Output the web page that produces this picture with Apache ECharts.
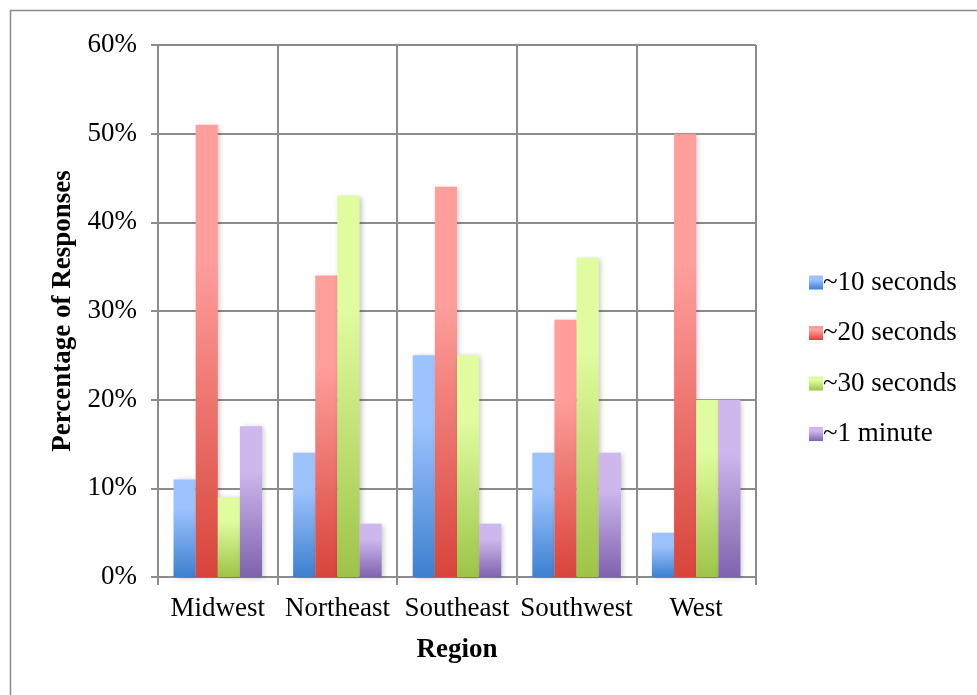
<!DOCTYPE html>
<html>
<head>
<meta charset="utf-8">
<script src="https://cdn.jsdelivr.net/npm/echarts@6/dist/echarts.min.js"></script>
<style>
  html, body { margin: 0; padding: 0; background: #fff; }
  #chart { width: 977px; height: 695px; }
</style>
</head>
<body>
<div id="chart"></div>
<script>
// Regions and response-time shares (percent)
const regions = ['Midwest', 'Northeast', 'Southeast', 'Southwest', 'West'];
const seriesNames = ['~10 seconds', '~20 seconds', '~30 seconds', '~1 minute'];
const tenSeconds = [11, 14, 25, 14, 5];
const twentySeconds = [51, 34, 44, 29, 50];
const thirtySeconds = [9, 43, 25, 36, 20];
const oneMinute = [17, 6, 6, 14, 20];
const yTicks = [0, 10, 20, 30, 40, 50, 60];

const values = [tenSeconds, twentySeconds, thirtySeconds, oneMinute];
// light top / dark bottom for each series
const palette = [
  ['#9dc3ff', '#3c80cf'],
  ['#ff9e9b', '#d8443a'],
  ['#e0fc9e', '#9dc447'],
  ['#cdb7ed', '#7f62ad']
];

function grad(c) {
  return new echarts.graphic.LinearGradient(0, 0, 0, 1, [
    { offset: 0, color: c[0] },
    { offset: 0.3, color: c[0] },
    { offset: 1, color: c[1] }
  ]);
}

const serif = '"Liberation Serif", "DejaVu Serif", serif';
const fs = 27;
const chart = echarts.init(document.getElementById('chart'));

chart.setOption({
  animation: false,
  backgroundColor: '#fff',
  graphic: [{
    type: 'rect',
    shape: { x: 10.5, y: 10.5, width: 1000, height: 700 },
    style: { fill: 'none', stroke: '#8c8c8c', lineWidth: 1.5 },
    silent: true
  }],
  legend: {
    orient: 'vertical',
    left: 804,
    top: 264,
    itemWidth: 14,
    itemHeight: 14,
    itemGap: 23.5,
    icon: 'rect',
    textStyle: { fontFamily: serif, fontSize: fs, color: '#000', padding: [0, 0, 0, -5] },
    data: seriesNames
  },
  grid: { left: 158, right: 221, top: 45, bottom: 118, containLabel: false },
  xAxis: {
    type: 'category',
    data: regions,
    name: 'Region',
    nameLocation: 'middle',
    nameGap: 60,
    nameTextStyle: { fontFamily: serif, fontSize: fs, fontWeight: 'bold', color: '#000' },
    axisLine: { lineStyle: { color: '#8c8c8c', width: 2 } },
    axisTick: { show: true, interval: 0, length: 8, alignWithLabel: false, lineStyle: { color: '#8c8c8c', width: 2 } },
    splitLine: { show: true, interval: 0, lineStyle: { color: '#8c8c8c', width: 2 } },
    axisLabel: { interval: 0, hideOverlap: false, fontFamily: serif, fontSize: fs, color: '#000', margin: 18 }
  },
  yAxis: {
    type: 'value',
    min: yTicks[0],
    max: yTicks[yTicks.length - 1],
    interval: 10,
    name: 'Percentage of Responses',
    nameLocation: 'middle',
    nameGap: 81,
    nameTextStyle: { fontFamily: serif, fontSize: fs, fontWeight: 'bold', color: '#000' },
    axisLine: { show: true, lineStyle: { color: '#8c8c8c', width: 2 } },
    axisTick: { show: true, length: 7, lineStyle: { color: '#8c8c8c', width: 2 } },
    splitLine: { show: true, lineStyle: { color: '#8c8c8c', width: 2 } },
    axisLabel: { fontFamily: serif, fontSize: fs, color: '#000', margin: 21, formatter: '{value}%' }
  },
  series: seriesNames.map((name, i) => ({
    name: name,
    type: 'bar',
    data: values[i],
    barGap: '0%',
    barCategoryGap: '26%',
    itemStyle: {
      color: grad(palette[i]),
      shadowColor: 'rgba(0,0,0,0.22)',
      shadowBlur: 5,
      shadowOffsetX: 2,
      shadowOffsetY: 1
    }
  }))
});
</script>
</body>
</html>
